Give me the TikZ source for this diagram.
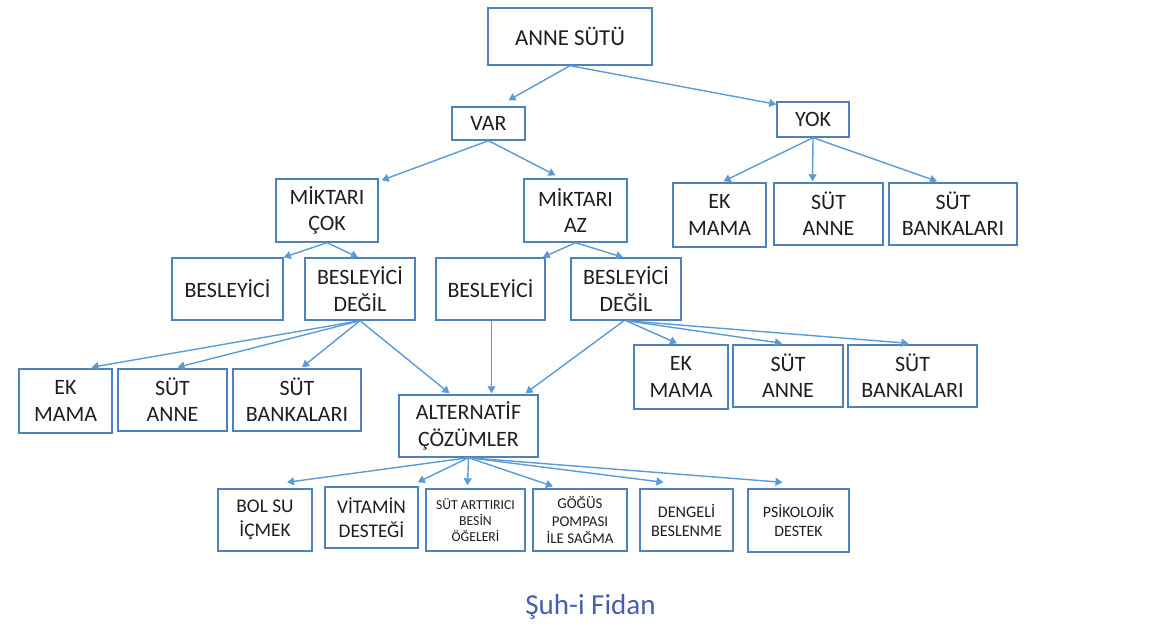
\documentclass[tikz,border=0pt]{standalone}
\usepackage{fontspec}
\setmainfont{Carlito}
\usetikzlibrary{arrows.meta,calc}
\definecolor{boxblue}{RGB}{79,129,189}
\definecolor{arrowblue}{RGB}{91,155,213}
\definecolor{textgray}{RGB}{30,30,30}
\definecolor{signblue}{RGB}{68,94,176}

\begin{document}
\begin{tikzpicture}[
    x=0.02cm, y=-0.02cm,
    box/.style={draw=boxblue, line width=0.8pt, inner sep=0pt, minimum height=1.24cm,
                align=center, text=textgray, font=\fontsize{12.5}{15}\selectfont},
    arr/.style={-{Triangle[length=4pt,width=4.5pt]}, draw=arrowblue, line width=0.8pt},
]
  \useasboundingbox (0,0) rectangle (1155,636);

  % Row 1: root
  \node[box, minimum width=3.28cm, minimum height=1.14cm, font=\fontsize{13}{15}\selectfont] (root) at (570,36.5) {ANNE SÜTÜ};

  % Row 2: var / yok
  \node[box, minimum width=1.46cm, minimum height=0.66cm] (var) at (488.5,123.5) {VAR};
  \node[box, minimum width=1.44cm, minimum height=0.70cm] (yok) at (813,119.5) {YOK};

  % Row 3: amount + yok branches
  \node[box, minimum width=2.04cm, minimum height=1.26cm] (cok) at (327,210.5) {MİKTARI\\ÇOK};
  \node[box, minimum width=2.06cm, minimum height=1.26cm] (az) at (575.5,210.5) {MİKTARI\\AZ};
  \node[box, minimum width=1.86cm, minimum height=1.28cm] (yek) at (719.5,215) {EK\\MAMA};
  \node[box, minimum width=2.18cm] (yanne) at (828.5,214) {SÜT\\ANNE};
  \node[box, minimum width=2.56cm] (ybank) at (953,214) {SÜT\\BANKALARI};

  % Row 4: nourishing or not
  \node[box, minimum width=2.22cm] (cbes) at (227.5,289) {BESLEYİCİ};
  \node[box, minimum width=2.20cm] (cdegil) at (360,289) {BESLEYİCİ\\DEĞİL};
  \node[box, minimum width=2.18cm] (abes) at (490.5,289) {BESLEYİCİ};
  \node[box, minimum width=2.20cm] (adegil) at (626,289) {BESLEYİCİ\\DEĞİL};

  % Row 5: supplements
  \node[box, minimum width=1.86cm, minimum height=1.28cm] (cek) at (65.5,401) {EK\\MAMA};
  \node[box, minimum width=2.18cm] (canne) at (172.5,400) {SÜT\\ANNE};
  \node[box, minimum width=2.56cm] (cbank) at (297,400) {SÜT\\BANKALARI};
  \node[box, minimum width=2.78cm] (alt) at (468.5,426) {ALTERNATİF\\ÇÖZÜMLER};
  \node[box, minimum width=1.88cm, minimum height=1.28cm] (aek) at (681,377) {EK\\MAMA};
  \node[box, minimum width=2.20cm] (aanne) at (788,376) {SÜT\\ANNE};
  \node[box, minimum width=2.58cm] (abank) at (912.5,376) {SÜT\\BANKALARI};

  % Row 6: alternative solutions
  \node[box, minimum width=1.88cm, font=\fontsize{11}{13.6}\selectfont] (bolsu) at (265,520) {BOL SU\\İÇMEK};
  \node[box, minimum width=1.86cm, minimum height=1.22cm, font=\fontsize{11}{13.6}\selectfont] (vitamin) at (371.5,517.5) {VİTAMİN\\DESTEĞİ};
  \node[box, minimum width=1.98cm, font=\fontsize{7.8}{9.2}\selectfont] (artir) at (475.5,520) {SÜT ARTTIRICI\\BESİN\\ÖĞELERİ};
  \node[box, minimum width=1.88cm, font=\fontsize{8.5}{10.2}\selectfont] (pompa) at (580,520) {GÖĞÜS\\POMPASI\\İLE SAĞMA};
  \node[box, minimum width=1.86cm, font=\fontsize{9.2}{10.8}\selectfont] (dengeli) at (686.5,520) {DENGELİ\\BESLENME};
  \node[box, minimum width=2.02cm, minimum height=1.26cm, font=\fontsize{9}{10.8}\selectfont] (psiko) at (798.5,520.5) {PSİKOLOJİK\\DESTEK};

  % Signature
  \node[anchor=base, text=signblue, font=\fontsize{16.5}{18}\selectfont] (sign) at (590.5,614) {Şuh-i Fidan};

  % Arrows
  \draw[arr] (root.south) -- ($(var.north)+(20,-6)$);
  \draw[arr] (root.south) -- ($(yok.north west)+(0,3)$);
  \draw[arr] (var.south) -- ($(cok.north east)+(3,2)$);
  \draw[arr] (var.south) -- ($(az.north)+(-20,-3)$);
  \draw[arr] (yok.south) -- ($(yek.north)+(4,-1)$);
  \draw[arr] (yok.south) -- ($(yanne.north)+(-16,-1)$);
  \draw[arr] (yok.south) -- ($(ybank.north)+(-16,-1)$);
  \draw[arr] (cok.south) -- (cbes.north east);
  \draw[arr] (cok.south) -- ($(cdegil.north)+(-2,0)$);
  \draw[arr] (az.south) -- ($(abes.north east)+(-3,0)$);
  \draw[arr] (az.south) -- ($(adegil.north)+(-3,0)$);
  \draw[arr] (cdegil.south) -- ($(cek.north)+(26,-1)$);
  \draw[arr] (cdegil.south) -- ($(canne.north)+(5,-1)$);
  \draw[arr] (cdegil.south) -- ($(cbank.north)+(5,-1)$);
  \draw[arr] (cdegil.south) -- ($(alt.north)+(-19,-1)$);
  \draw[arr] ($(abes.south)+(1,0)$) -- ($(alt.north)+(23,-1)$);
  \draw[arr] ($(adegil.south)+(-2,0)$) -- ($(alt.north)+(57,-1)$);
  \draw[arr] (adegil.south) -- ($(aek.north)+(-4,-1)$);
  \draw[arr] (adegil.south) -- ($(aanne.north)+(-6,-1)$);
  \draw[arr] (adegil.south) -- ($(abank.north)+(-4,-1)$);
  \draw[arr] (alt.south) -- ($(bolsu.north)+(22,-6)$);
  \draw[arr] (alt.south) -- ($(vitamin.north east)+(-1,-4)$);
  \draw[arr] (alt.south) -- ($(artir.north)+(-8,-3)$);
  \draw[arr] (alt.south) -- ($(pompa.north)+(-27,-2)$);
  \draw[arr] (alt.south) -- ($(dengeli.north)+(-23,-6)$);
  \draw[arr] (alt.south) -- ($(psiko.north)+(-16,-6)$);
\end{tikzpicture}
\end{document}
